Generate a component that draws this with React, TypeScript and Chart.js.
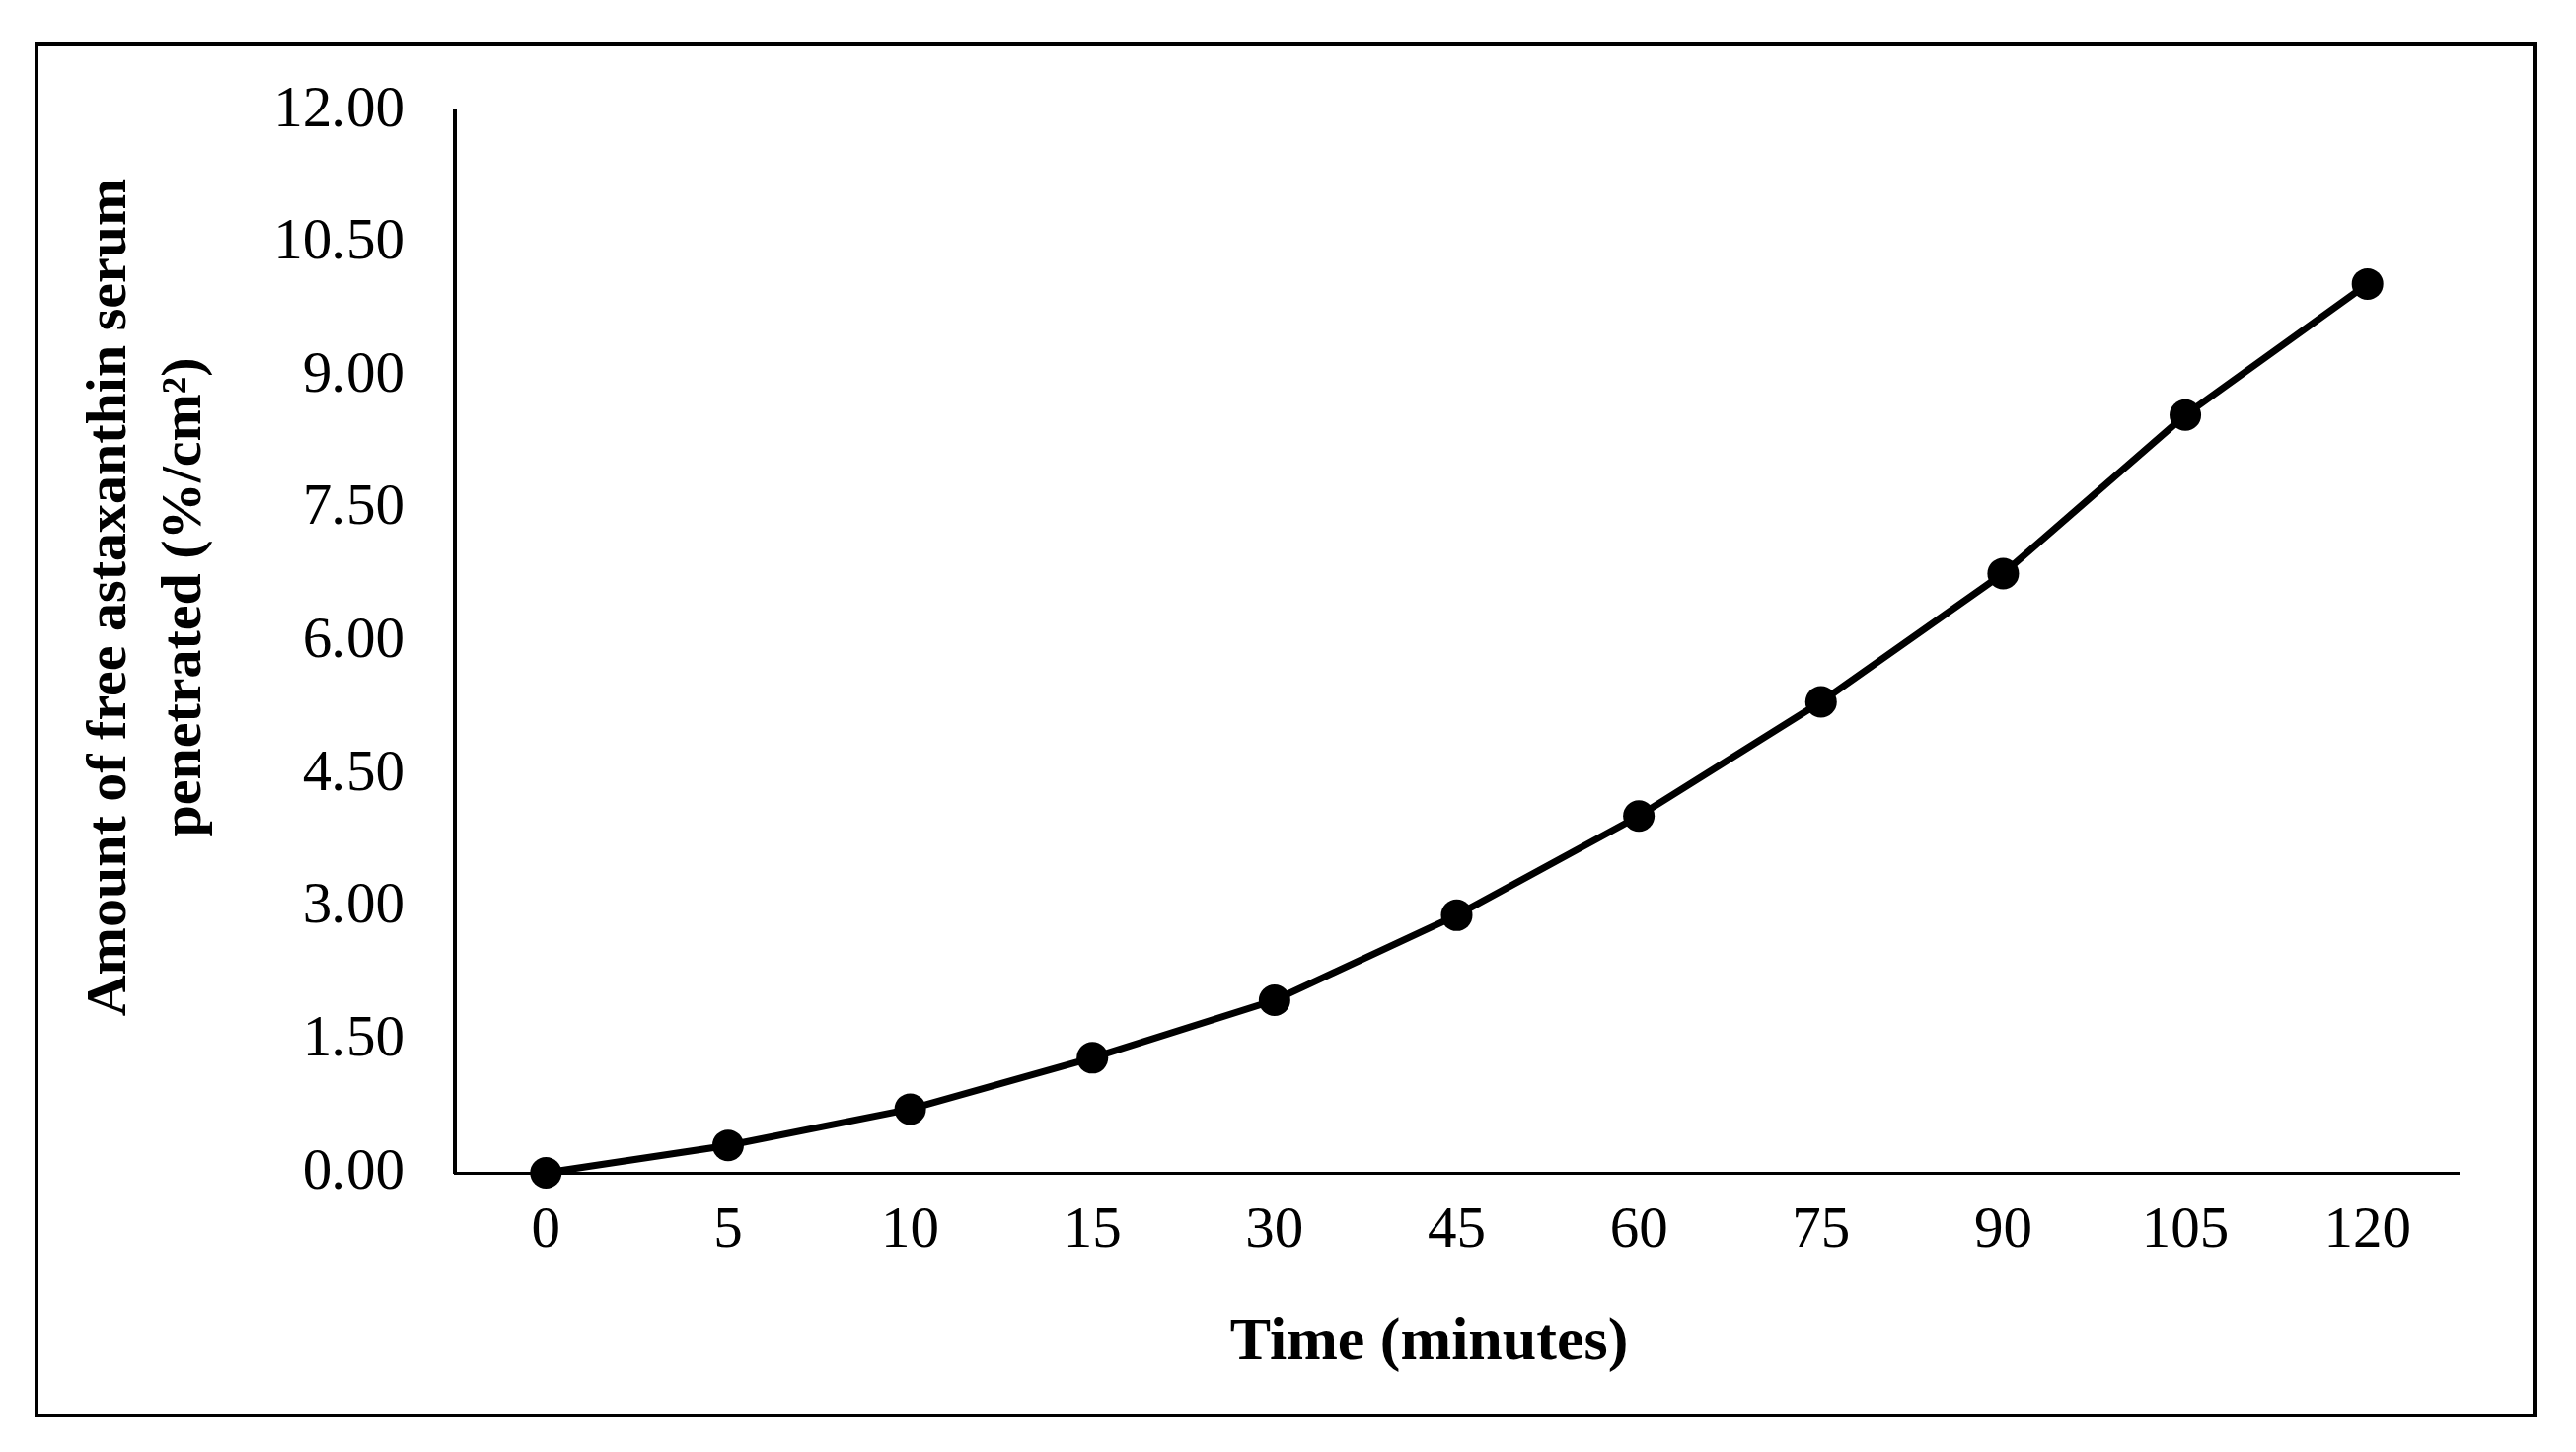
import React, { useEffect, useRef } from "react";
import { Chart, registerables } from "chart.js";

Chart.register(...registerables);

const categories: string[] = ["0", "5", "10", "15", "30", "45", "60", "75", "90", "105", "120"];
const penetrated: number[] = [0, 0.31, 0.72, 1.3, 1.95, 2.91, 4.03, 5.32, 6.77, 8.56, 10.04];
const yTitleLines: string[] = ["Amount of free astaxanthin serum", "penetrated (%/cm²)"];
const xTitle = "Time (minutes)";

const W = 2611;
const H = 1472;
const FONT = '"Liberation Serif", "DejaVu Serif", serif';

const framePlugin = {
  id: "frameAndTitles",
  beforeDraw(chart: any) {
    const ctx = chart.ctx;
    ctx.save();
    ctx.fillStyle = "#fff";
    ctx.fillRect(0, 0, chart.width, chart.height);
    ctx.strokeStyle = "#000";
    ctx.lineWidth = 4;
    ctx.strokeRect(37, 45, 2532, 1390);
    ctx.restore();
  },
  afterDraw(chart: any) {
    const ctx = chart.ctx;
    const area = chart.chartArea;
    ctx.save();
    ctx.fillStyle = "#000";
    ctx.textAlign = "center";
    ctx.textBaseline = "middle";
    // x title
    ctx.font = `bold 62px ${FONT}`;
    ctx.fillText(xTitle, (area.left + area.right) / 2 - 28, 1362);
    // y title
    ctx.font = `bold 58px ${FONT}`;
    const cy = (area.top + area.bottom) / 2 - 45;
    yTitleLines.forEach((line, i) => {
      ctx.save();
      ctx.translate(112 + i * 76, cy);
      ctx.rotate(-Math.PI / 2);
      ctx.fillText(line, 0, 0);
      ctx.restore();
    });
    ctx.restore();
  },
};

export default function App() {
  const ref = useRef<HTMLCanvasElement | null>(null);

  useEffect(() => {
    if (!ref.current) return;
    const chart = new Chart(ref.current, {
      type: "line",
      data: {
        labels: categories,
        datasets: [
          {
            data: penetrated,
            borderColor: "#000",
            backgroundColor: "#000",
            borderWidth: 7,
            pointRadius: 16,
            pointBackgroundColor: "#000",
            pointBorderColor: "#000",
            pointBorderWidth: 0,
            tension: 0,
            clip: false as any,
          },
        ],
      },
      options: {
        animation: false,
        responsive: false,
        maintainAspectRatio: false,
        layout: { padding: { left: 0, right: 119, top: 112, bottom: 0 } },
        plugins: { legend: { display: false }, tooltip: { enabled: false } },
        scales: {
          x: {
            type: "category",
            offset: true,
            grid: { display: false, drawTicks: false },
            border: { display: true, color: "#000", width: 3 },
            ticks: {
              color: "#000",
              font: { family: FONT, size: 59 },
              padding: 24,
              maxRotation: 0,
              autoSkip: false,
            },
            afterFit: (scale: any) => {
              scale.height = 283;
            },
          },
          y: {
            min: 0,
            max: 12,
            grid: { display: false, drawTicks: false },
            border: { display: true, color: "#000", width: 4 },
            ticks: {
              stepSize: 1.5,
              color: "#000",
              font: { family: FONT, size: 59 },
              padding: 51,
              callback: (v: any) => Number(v).toFixed(2),
            },
            afterFit: (scale: any) => {
              scale.width = 461;
            },
          },
        },
      },
      plugins: [framePlugin],
    });
    return () => chart.destroy();
  }, []);

  return (
    <div style={{ position: "absolute", left: 0, top: 0, width: W, height: H, background: "#fff" }}>
      <canvas ref={ref} width={W} height={H} style={{ display: "block" }} />
    </div>
  );
}
